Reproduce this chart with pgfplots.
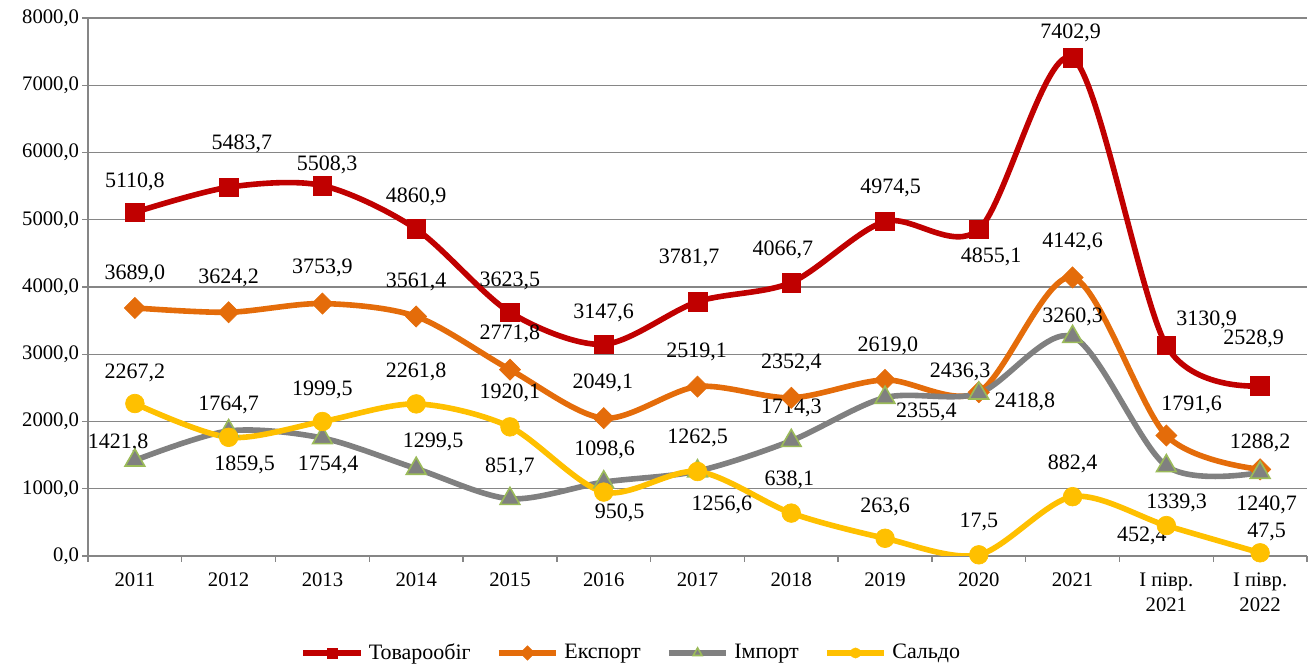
\documentclass[border=0pt]{standalone}
\usepackage{fontspec}
\setmainfont{Liberation Serif}
\usepackage{pgfplots}
\pgfplotsset{compat=1.18}
\definecolor{cTov}{RGB}{192,0,0}
\definecolor{cExp}{RGB}{228,108,10}
\definecolor{cImp}{RGB}{128,128,128}
\definecolor{cImpE}{RGB}{155,187,89}
\definecolor{cSal}{RGB}{255,192,0}
\definecolor{cAx}{RGB}{134,134,134}
\newcommand{\lab}[3]{\node[inner sep=0pt,font=\fontsize{16.5}{19}\selectfont] at (axis cs:#1,#2) {#3};}
\begin{document}
\fontsize{15}{18}\selectfont
\begin{tikzpicture}
\useasboundingbox (-66pt,-83.25pt) rectangle (920.25pt,417pt);
\begin{axis}[
  at={(0,0)}, anchor=south west,
  scale only axis, width=914.25pt, height=403.5pt,
  xmin=-0.5, xmax=12.5, ymin=0, ymax=8000,
  axis lines*=left,
  axis line style={cAx, line width=1pt},
  ytick={0,1000,...,8000},
  ymajorgrids, grid style={cAx, line width=0.8pt},
  xtick={0,...,12},
  xticklabels={2011,2012,2013,2014,2015,2016,2017,2018,2019,2020,2021,{І півр.\\2021},{І півр.\\2022}},
  minor xtick={-0.5,0.5,...,12.5},
  tick align=outside,
  major tick length=4.5pt, minor tick length=4.5pt,
  tick style={cAx, line width=1pt},
  every major x tick/.append style={draw=none},
  yticklabel style={xshift=3pt, /pgf/number format/.cd, fixed, fixed zerofill, precision=1, use comma, 1000 sep={}},
  /pgf/number format/assume math mode=true,
  tick label style={font=\fontsize{15.5}{19}\selectfont},
  xticklabel style={align=center, yshift=-3pt},
  legend style={at={(0.446,-0.1803)}, anchor=center, draw=none, legend columns=4,
    font=\fontsize{16.5}{19}\selectfont,
    /tikz/every odd column/.append style={column sep=2pt},
    /tikz/every even column/.append style={column sep=17pt}},
  legend image code/.code={\draw[mark repeat=2,mark phase=2,#1,mark size=3.8pt] plot coordinates {(0pt,0pt) (21.5pt,0pt) (43pt,0pt)};},
]
\addplot[cTov, line width=4.2pt, smooth, mark=square*, mark size=7pt, mark options={fill=cTov, draw=cTov, line width=0.5pt}] coordinates {
(0,5110.8) (1,5483.7) (2,5508.3) (3,4860.9) (4,3623.5) (5,3147.6) (6,3781.7) (7,4066.7) (8,4974.5) (9,4855.1) (10,7402.9) (11,3130.9) (12,2528.9)};
\addlegendentry{Товарообіг}
\addplot[cExp, line width=4.2pt, smooth, mark=square*, mark size=5.6pt, mark options={fill=cExp, draw=cExp, line width=0.5pt, rotate=45}] coordinates {
(0,3689.0) (1,3624.2) (2,3753.9) (3,3561.4) (4,2771.8) (5,2049.1) (6,2519.1) (7,2352.4) (8,2619.0) (9,2436.3) (10,4142.6) (11,1791.6) (12,1288.2)};
\addlegendentry{Експорт}
\addplot[cImp, line width=4.2pt, smooth, mark=triangle*, mark size=8.5pt, mark options={fill=cImp, draw=cImpE, line width=1.2pt}] coordinates {
(0,1421.8) (1,1859.5) (2,1754.4) (3,1299.5) (4,851.7) (5,1098.6) (6,1262.5) (7,1714.3) (8,2355.4) (9,2418.8) (10,3260.3) (11,1339.3) (12,1240.7)};
\addlegendentry{Імпорт}
\addplot[cSal, line width=4.2pt, smooth, mark=*, mark size=7pt, mark options={fill=cSal, draw=cSal, line width=0.5pt}] coordinates {
(0,2267.2) (1,1764.7) (2,1999.5) (3,2261.8) (4,1920.1) (5,950.5) (6,1256.6) (7,638.1) (8,263.6) (9,17.5) (10,882.4) (11,452.4) (12,47.5)};
\addlegendentry{Сальдо}
% Товарообіг labels
\lab{0}{5561}{5110,8}
\lab{1.14}{6126}{5483,7}
\lab{2.05}{5814}{5508,3}
\lab{3.0}{5338}{4860,9}
\lab{4.0}{4089}{3623,5}
\lab{5.0}{3613}{3147,6}
\lab{5.91}{4431}{3781,7}
\lab{6.91}{4550}{4066,7}
\lab{8.06}{5472}{4974,5}
\lab{9.13}{4446}{4855,1}
\lab{9.98}{7777}{7402,9}
\lab{11.43}{3509}{3130,9}
\lab{11.93}{3227}{2528,9}
% Експорт labels
\lab{0}{4193}{3689,0}
\lab{1.0}{4134}{3624,2}
\lab{2.0}{4283}{3753,9}
\lab{3.0}{4074}{3561,4}
\lab{4.0}{3301}{2771,8}
\lab{4.99}{2573}{2049,1}
\lab{5.99}{3033}{2519,1}
\lab{7.0}{2870}{2352,4}
\lab{8.03}{3123}{2619,0}
\lab{8.80}{2736}{2436,3}
\lab{10.0}{4669}{4142,6}
\lab{11.27}{2245}{1791,6}
\lab{12.0}{1680}{1288,2}
% Імпорт labels
\lab{-0.18}{1680}{1421,8}
\lab{1.17}{1353}{1859,5}
\lab{2.06}{1353}{1754,4}
\lab{3.18}{1695}{1299,5}
\lab{4.0}{1323}{851,7}
\lab{5.01}{1576}{1098,6}
\lab{6.0}{1755}{1262,5}
\lab{7.0}{2201}{1714,3}
\lab{8.44}{2141}{2355,4}
\lab{9.49}{2290}{2418,8}
\lab{10.0}{3554}{3260,3}
\lab{11.11}{788}{1339,3}
\lab{12.07}{758}{1240,7}
% Сальдо labels
\lab{0}{2721}{2267,2}
\lab{1.0}{2245}{1764,7}
\lab{2.0}{2468}{1999,5}
\lab{3.0}{2736}{2261,8}
\lab{4.0}{2424}{1920,1}
\lab{5.17}{639}{950,5}
\lab{6.26}{758}{1256,6}
\lab{6.98}{1130}{638,1}
\lab{8.0}{729}{263,6}
\lab{9.0}{506}{17,5}
\lab{10.0}{1368}{882,4}
\lab{10.74}{297}{452,4}
\lab{12.07}{357}{47,5}
\end{axis}
\end{tikzpicture}
\end{document}
